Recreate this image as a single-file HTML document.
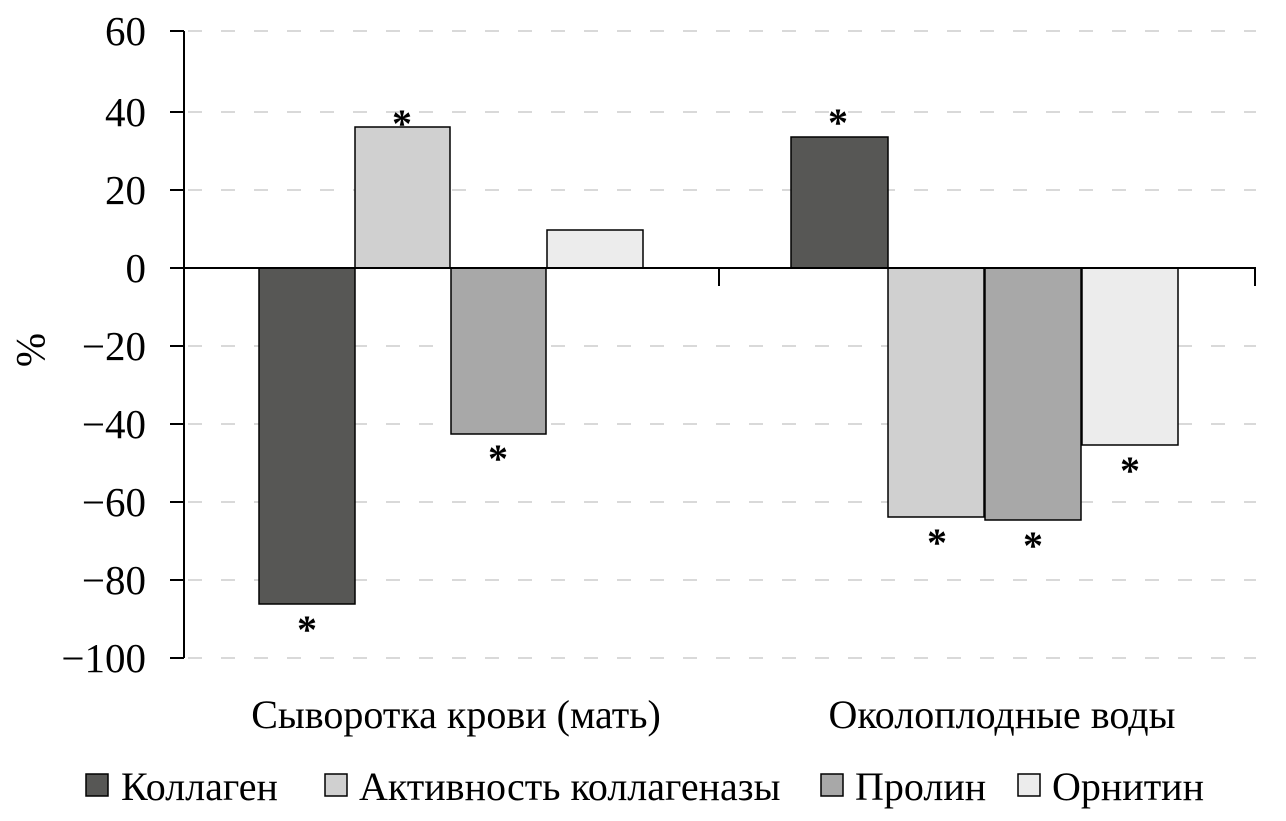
<!DOCTYPE html><html><head><meta charset="utf-8"><style>body{margin:0;background:#fff}</style></head><body>
<svg width="1286" height="816" xmlns="http://www.w3.org/2000/svg" font-family="Liberation Serif, serif" fill="#000">
<g stroke="#d9d9d9" stroke-width="2" stroke-dasharray="14,19">
<line x1="188" y1="31" x2="1256" y2="31"/><line x1="188" y1="112" x2="1256" y2="112"/><line x1="188" y1="190" x2="1256" y2="190"/>
<line x1="188" y1="346" x2="1256" y2="346"/><line x1="188" y1="424" x2="1256" y2="424"/><line x1="188" y1="502" x2="1256" y2="502"/><line x1="188" y1="580" x2="1256" y2="580"/><line x1="188" y1="658" x2="1256" y2="658"/>
</g>
<g stroke="#000" stroke-width="1.5">
<rect x="259" y="268" width="96" height="336" fill="#575755"/>
<rect x="355" y="127" width="95" height="141" fill="#d0d0d0"/>
<rect x="451" y="268" width="95" height="166" fill="#a8a8a8"/>
<rect x="547" y="230" width="96" height="38" fill="#ececec"/>
<rect x="791" y="137" width="97" height="131" fill="#575755"/>
<rect x="888" y="268" width="96" height="249" fill="#d0d0d0"/>
<rect x="985" y="268" width="96" height="252" fill="#a8a8a8"/>
<rect x="1082" y="268" width="96" height="177" fill="#ececec"/>
</g>
<g stroke="#000" stroke-width="2">
<line x1="184" y1="31" x2="184" y2="658"/>
<line x1="184" y1="268" x2="1256" y2="268"/>
<line x1="719" y1="268" x2="719" y2="286"/><line x1="1255" y1="268" x2="1255" y2="286"/>
<line x1="170" y1="31" x2="184" y2="31"/><line x1="170" y1="112" x2="184" y2="112"/><line x1="170" y1="190" x2="184" y2="190"/><line x1="170" y1="268" x2="184" y2="268"/><line x1="170" y1="346" x2="184" y2="346"/><line x1="170" y1="424" x2="184" y2="424"/><line x1="170" y1="502" x2="184" y2="502"/><line x1="170" y1="580" x2="184" y2="580"/><line x1="170" y1="658" x2="184" y2="658"/>
</g>
<g font-size="41" text-anchor="end">
<text x="146" y="45">60</text><text x="146" y="126">40</text><text x="146" y="204">20</text><text x="146" y="282">0</text>
<text x="146" y="360">−20</text><text x="146" y="438">−40</text><text x="146" y="516">−60</text><text x="146" y="594">−80</text><text x="146" y="672">−100</text>
</g>
<text transform="translate(44,350) rotate(-90)" font-size="41" text-anchor="middle">%</text>
<g font-size="40" text-anchor="middle" font-weight="bold">
<text x="402" y="137">*</text><text x="307" y="643">*</text><text x="498" y="472">*</text>
<text x="838" y="136">*</text><text x="937" y="556">*</text><text x="1033" y="559">*</text><text x="1130" y="484">*</text>
</g>
<g font-size="40" text-anchor="middle">
<text x="456" y="728">Сыворотка крови (мать)</text><text x="1002" y="728">Околоплодные воды</text>
</g>
<g font-size="40" stroke="#000" stroke-width="1.5">
<rect x="86" y="774" width="22" height="22" fill="#575755"/><text x="121" y="800" stroke="none">Коллаген</text>
<rect x="325" y="774" width="22" height="22" fill="#d0d0d0"/><text x="359" y="800" stroke="none">Активность коллагеназы</text>
<rect x="821" y="774" width="22" height="22" fill="#a8a8a8"/><text x="855" y="800" stroke="none">Пролин</text>
<rect x="1018" y="774" width="22" height="22" fill="#ececec"/><text x="1052" y="800" stroke="none">Орнитин</text>
</g>
</svg></body></html>
